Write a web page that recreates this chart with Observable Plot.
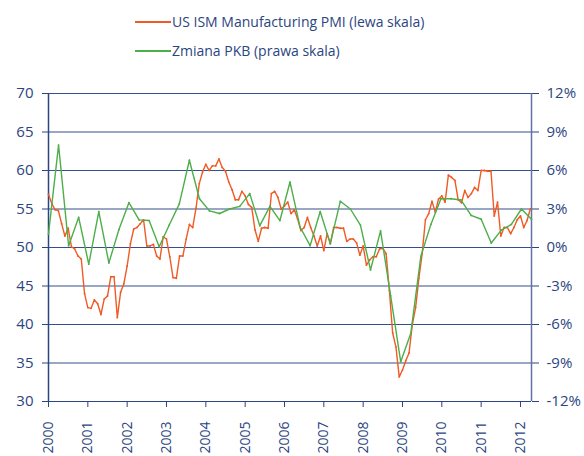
<!DOCTYPE html>
<html><head><meta charset="utf-8">
<script src="https://cdn.jsdelivr.net/npm/d3@7"></script>
<script src="https://cdn.jsdelivr.net/npm/@observablehq/plot@0.6"></script>
<style>
body{margin:0;background:#fff;width:584px;height:456px;overflow:hidden;font-family:"Open Sans",sans-serif;}
#legend{position:relative;height:80px;}
.item{position:absolute;left:135px;display:flex;align-items:center;color:#2b4580;font-size:14px;white-space:nowrap;}
.sw{width:36px;height:0;border-top:2px solid;margin-right:1px}
</style></head><body>
<div id="legend"></div><div id="chart"></div>
<script>
const seriesNames = ["US ISM Manufacturing PMI (lewa skala)", "Zmiana PKB (prawa skala)"];
const colors = ["#f15a24", "#4dae4a"];
const yearTicks = [2000,2001,2002,2003,2004,2005,2006,2007,2008,2009,2010,2011,2012];
const leftTicks = [30,35,40,45,50,55,60,65,70];
// ISM PMI, monthly Jan 2000 - Apr 2012
const pmi = [
56.9,55.7,54.9,54.8,53.1,51.5,52.5,50.1,49.8,48.9,48.5,44.0,
42.2,42.1,43.2,42.7,41.3,43.3,43.7,46.2,46.2,40.9,44.2,45.3,
47.6,50.5,52.4,52.6,53.1,53.6,50.2,50.2,50.4,48.9,48.5,51.4,
51.1,48.8,46.1,46.0,48.9,48.9,51.1,53.0,52.6,55.1,58.3,59.8,
60.8,60.0,60.6,60.6,61.5,60.4,59.9,58.5,57.5,56.2,56.2,57.3,
56.7,55.6,55.2,52.3,50.8,52.5,52.6,52.5,57.0,57.3,56.5,55.0,
55.4,55.9,54.4,54.9,53.7,52.2,52.6,53.9,52.6,51.5,50.2,51.5,
49.6,51.8,50.5,52.6,52.6,52.5,52.5,50.8,51.1,51.1,50.6,49.0,
50.2,47.7,48.4,48.8,48.8,49.8,49.9,49.2,44.4,38.9,37.1,33.2,
34.1,35.3,36.3,40.0,42.2,46.0,49.2,53.6,54.4,56.0,54.6,56.3,
56.7,55.9,59.4,59.1,58.7,56.2,55.8,57.4,56.5,57.0,57.8,57.4,
60.0,60.0,59.9,59.9,54.1,55.9,51.5,52.6,52.6,51.8,52.6,53.6,
54.1,52.6,53.5,55.0
];
// GDP change (%), quarterly Q1 2000 - Q1 2012
const gdp = [
1.05,7.98,0.14,2.35,
-1.3,2.8,-1.2,1.4,
3.5,2.15,2.1,0.06,
1.75,3.4,6.8,3.8,
2.85,2.65,3.0,3.2,
4.2,1.7,3.2,2.1,
5.1,1.6,0.14,2.8,
0.3,3.6,3.0,1.75,
-1.75,1.3,-3.75,-8.9,
-6.7,-0.7,1.8,3.8,
3.8,3.7,2.5,2.2,
0.35,1.35,1.8,3.0,
2.2
];

const navy = "#2b4580";
const xStart = 2000, xEnd = 2012.28;
const pmiData = pmi.map((v,i)=>({x: 2000 + i/12, y: v}));
// secondary (quarterly) category axis spread over the full width; right scale -12..12% == 30..70
const gdpData = gdp.map((v,i)=>({x: xStart + i*(xEnd-xStart)/(gdp.length-1), y: 50 + v*40/24}));

const lg = document.getElementById("legend");
seriesNames.forEach((n,i)=>{
  const d = document.createElement("div");
  d.className="item"; d.style.top = (i===0? 12: 41)+"px";
  d.innerHTML = `<span class="sw" style="border-color:${colors[i]}"></span><span>${n}</span>`;
  lg.appendChild(d);
});

const chart = Plot.plot({
  width: 584, height: 376,
  marginTop: 13, marginBottom: 55, marginLeft: 48, marginRight: 53,
  style: {fontFamily: "Open Sans", fontSize: "15px", color: navy, background: "#fff"},
  x: {domain: [xStart, xEnd]},
  y: {domain: [30, 70]},
  marks: [
    Plot.ruleY(leftTicks, {stroke: "#34508c", strokeWidth: 1.2}),
    Plot.axisY({anchor: "left", ticks: leftTicks, tickSize: 6, tickPadding: 9, label: null, stroke: navy}),
    Plot.axisY({anchor: "right", ticks: leftTicks, tickSize: 7, tickPadding: 8, label: null,
      tickFormat: v => `${Math.round((v-50)*24/40)}%`}),
    Plot.axisX({anchor: "bottom", ticks: yearTicks, tickFormat: d => String(d), tickSize: 6, tickPadding: 14, tickRotate: -90, label: null, fontSize: 14}),
    Plot.ruleX([xStart], {stroke: navy, strokeWidth: 1.5}),
    Plot.ruleX([xEnd], {stroke: "#6272a0", strokeWidth: 1.5}),
    Plot.ruleY([30], {stroke: navy, strokeWidth: 1.2}),
    Plot.line(pmiData, {x: "x", y: "y", stroke: colors[0], strokeWidth: 1.4}),
    Plot.dot(pmiData, {x: "x", y: "y", r: 0.9, fill: colors[0]}),
    Plot.line(gdpData, {x: "x", y: "y", stroke: colors[1], strokeWidth: 1.4}),
    Plot.dot(gdpData, {x: "x", y: "y", r: 0.9, fill: colors[1]})
  ]
});
document.getElementById("chart").appendChild(chart);
</script>
</body></html>
